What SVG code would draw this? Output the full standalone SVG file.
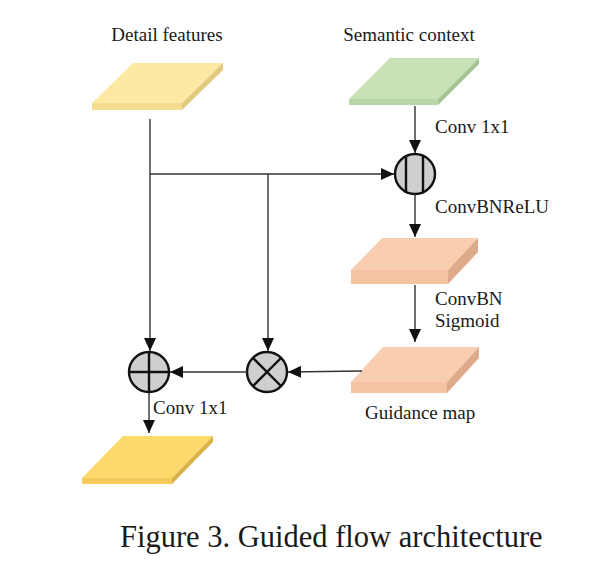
<svg xmlns="http://www.w3.org/2000/svg" width="614" height="580" viewBox="0 0 614 580">
<style>
text{font-family:"Liberation Serif","Times New Roman",serif;fill:#1a1a1a;}
.lbl{font-size:19px;}
.cap{font-size:30.5px;}
.ln{stroke:#333;stroke-width:1.4;fill:none;}
.op{fill:#cfcfcf;stroke:#111;stroke-width:2.4;}
.sym{stroke:#111;stroke-width:2.4;fill:none;}
</style>
<defs>
<marker id="ah" markerUnits="userSpaceOnUse" markerWidth="13" markerHeight="12" viewBox="0 0 13 12" refX="13" refY="6" orient="auto">
<path d="M0,0 L13,6 L0,12 z" fill="#111"/>
</marker>
</defs>
<rect width="614" height="580" fill="#fff"/>
<g id="label-detail"><text class="lbl" x="167" y="41" text-anchor="middle">Detail features</text></g>
<g id="label-semantic"><text class="lbl" x="409" y="41" text-anchor="middle">Semantic context</text></g>
<g id="slab-detail">
<polygon points="133,63 223,63 182,103 92,103" fill="#FDE8A4"/>
<polygon points="92,103 182,103 182,110 92,110" fill="#F6DC92"/>
<polygon points="182,103 223,63 223,70 182,110" fill="#E3C97E"/>
</g>
<g id="slab-semantic">
<polygon points="390,58 479,58 438,99 349,99" fill="#C6E2B6"/>
<polygon points="349,99 438,99 438,105 349,105" fill="#B7D8A6"/>
<polygon points="438,99 479,58 479,64 438,105" fill="#A2C491"/>
</g>
<g id="concat">
<circle cx="415" cy="174" r="20" class="op"/>
<line x1="406" y1="155" x2="406" y2="193" class="sym"/>
<line x1="423" y1="155" x2="423" y2="193" class="sym"/>
</g>
<g id="slab-guide1">
<polygon points="382,238 478,238 448,270 351,270" fill="#F9CDAF"/>
<polygon points="351,270 448,270 448,284 351,284" fill="#F6C3A2"/>
<polygon points="448,270 478,238 478,252 448,284" fill="#DDAA8A"/>
</g>
<g id="slab-guidance">
<polygon points="383,347 479,347 447,382 351,382" fill="#F9CDAF"/>
<polygon points="351,382 447,382 447,393 351,393" fill="#F6C3A2"/>
<polygon points="447,382 479,347 479,358 447,393" fill="#DDAA8A"/>
</g>
<g id="multiply">
<circle cx="267" cy="372" r="20" class="op"/>
<line x1="253" y1="358" x2="281" y2="386" class="sym"/>
<line x1="281" y1="358" x2="253" y2="386" class="sym"/>
</g>
<g id="add">
<circle cx="149" cy="372" r="20" class="op"/>
<line x1="149" y1="352" x2="149" y2="392" class="sym"/>
<line x1="129" y1="372" x2="169" y2="372" class="sym"/>
</g>
<g id="slab-output">
<polygon points="123,436 213,436 172,478 82,478" fill="#FFD96C"/>
<polygon points="82,478 172,478 172,484 82,484" fill="#F5CC5A"/>
<polygon points="172,478 213,436 213,442 172,484" fill="#D9B24A"/>
</g>
<g id="connectors">
<line class="ln" x1="415" y1="106" x2="415" y2="153" marker-end="url(#ah)"/>
<line class="ln" x1="150" y1="119" x2="150" y2="351" marker-end="url(#ah)"/>
<line class="ln" x1="150" y1="174" x2="394" y2="174" marker-end="url(#ah)"/>
<line class="ln" x1="268" y1="174" x2="268" y2="351" marker-end="url(#ah)"/>
<line class="ln" x1="415" y1="194" x2="415" y2="237" marker-end="url(#ah)"/>
<line class="ln" x1="415" y1="285" x2="415" y2="342" marker-end="url(#ah)"/>
<line class="ln" x1="362" y1="371" x2="288" y2="372" marker-end="url(#ah)"/>
<line class="ln" x1="247" y1="372" x2="170" y2="372" marker-end="url(#ah)"/>
<line class="ln" x1="149" y1="393" x2="149" y2="433" marker-end="url(#ah)"/>
</g>
<g id="edge-labels">
<text class="lbl" x="435" y="133">Conv 1x1</text>
<text class="lbl" x="435" y="213">ConvBNReLU</text>
<text class="lbl" x="435" y="305">ConvBN</text>
<text class="lbl" x="435" y="327">Sigmoid</text>
<text class="lbl" x="153" y="414">Conv 1x1</text>
<text class="lbl" x="365" y="419">Guidance map</text>
</g>
<g id="caption"><text class="cap" x="120" y="547">Figure 3. Guided flow architecture</text></g>
</svg>
